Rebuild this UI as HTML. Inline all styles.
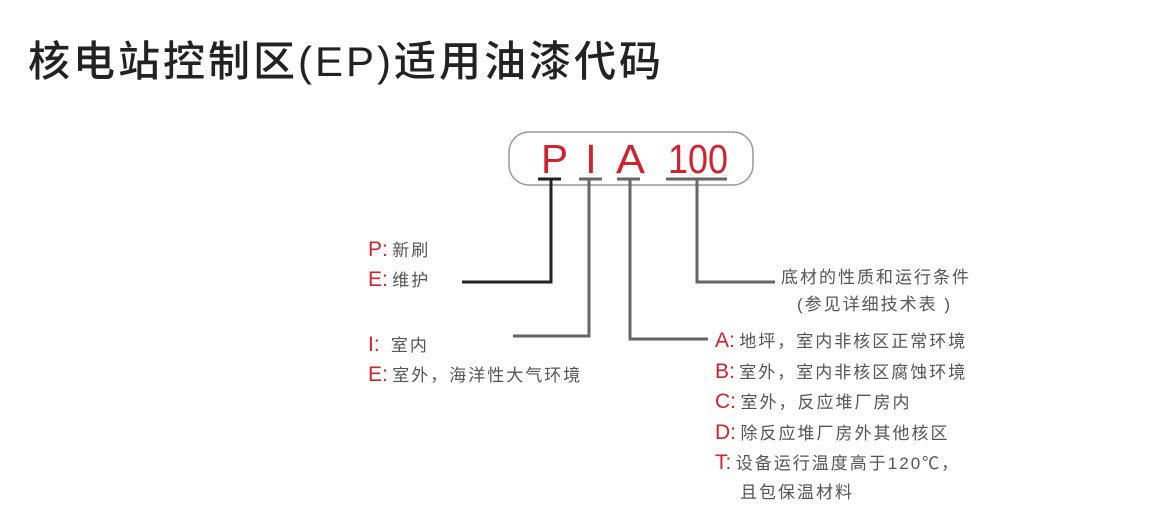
<!DOCTYPE html>
<html><head><meta charset="utf-8"><style>
body{margin:0;width:1175px;height:518px;background:#fff;position:relative;overflow:hidden;font-family:"Liberation Sans","Noto Sans CJK SC",sans-serif}
.t{position:absolute;white-space:nowrap}
.g{color:#555;font-size:17px;letter-spacing:2px}
.r{color:#d0232f;font-size:21px}
</style></head><body>
<div class="t" style="left:28px;top:28px;font-size:42px;font-weight:500;color:#222;letter-spacing:3px">核电站控制区(EP)适用油漆代码</div>
<svg width="1175" height="518" style="position:absolute;left:0;top:0">
<rect x="509" y="132" width="244" height="53" rx="20" fill="none" stroke="#999" stroke-width="1.5"/>
<g font-family="Liberation Sans,sans-serif" font-size="41" fill="#d0232f">
<text x="541" y="173" textLength="27" lengthAdjust="spacingAndGlyphs">P</text>
<text x="591" y="173" text-anchor="middle">I</text>
<text x="616" y="173" textLength="29" lengthAdjust="spacingAndGlyphs">A</text>
<text x="668" y="173" textLength="60" lengthAdjust="spacingAndGlyphs">100</text>
</g>
<g stroke-width="3" fill="none">
<path d="M538 179H561" stroke="#222"/>
<path d="M551 179V282H462" stroke="#222"/>
<path d="M579 179H602M589 179V336H513" stroke="#666"/>
<path d="M617 179H640M630 179V339H708" stroke="#666"/>
<path d="M666 179H727M697 179V282H775" stroke="#666"/>
</g>
</svg>
<div class="t" style="left:368px;top:236px"><span class="r">P:</span> <span class="g">新刷</span></div>
<div class="t" style="left:368px;top:266px"><span class="r">E:</span> <span class="g">维护</span></div>
<div class="t" style="left:368px;top:331px"><span class="r">I:</span> <span class="g">&nbsp;室内</span></div>
<div class="t" style="left:368px;top:361px"><span class="r">E:</span> <span class="g">室外，海洋性大气环境</span></div>
<div class="t g" style="left:781px;top:263px">底材的性质和运行条件</div>
<div class="t g" style="left:797px;top:290px">(参见详细技术表 )</div>
<div class="t" style="left:715px;top:327px"><span class="r">A:</span> <span class="g">地坪，室内非核区正常环境</span></div>
<div class="t" style="left:715px;top:358px"><span class="r">B:</span> <span class="g">室外，室内非核区腐蚀环境</span></div>
<div class="t" style="left:715px;top:388px"><span class="r">C:</span> <span class="g">室外，反应堆厂房内</span></div>
<div class="t" style="left:715px;top:419px"><span class="r">D:</span> <span class="g">除反应堆厂房外其他核区</span></div>
<div class="t" style="left:715px;top:449px"><span class="r">T:</span> <span class="g">设备运行温度高于120℃，</span></div>
<div class="t g" style="left:740px;top:478px">且包保温材料</div>
</body></html>
